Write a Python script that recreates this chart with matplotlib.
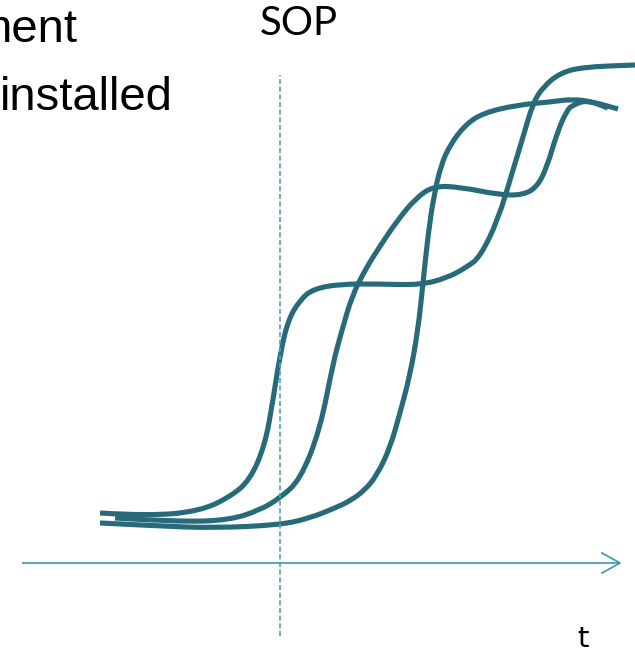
#!/usr/bin/env python3
"""Schematic: three S-curves of installed share over time, with SOP marker."""

import matplotlib

matplotlib.use("Agg")
import matplotlib.pyplot as plt
import numpy as np
from matplotlib.patches import PathPatch
from matplotlib.path import Path


# curve control points: time (x) and level above the time axis (y)
EARLY_T = [100, 150, 200, 230, 250, 265, 273, 280, 288, 300, 313, 340, 380, 420,
           447, 467, 480, 498, 513, 523, 533, 543, 560, 583, 635]
EARLY_Y = [50, 47, 52, 66, 83, 118, 163, 208, 243, 263, 274, 279, 279, 278,
           285, 296, 306, 343, 393, 426, 460, 476, 490, 496, 498]

MID_T = [115, 180, 230, 260, 280, 300, 320, 333, 342, 352, 365, 380, 397, 415,
         433, 460, 500, 523, 537, 547, 557, 567, 573, 587, 608]
MID_Y = [45, 41, 43, 53, 65, 83, 133, 200, 233, 267, 293, 317, 342, 364,
         377, 376, 368, 368, 376, 396, 430, 453, 458, 463, 455]

LATE_T = [100, 160, 213, 280, 310, 335, 350, 365, 377, 390, 400, 410, 418, 423,
          428, 434, 441, 450, 465, 483, 517, 550, 573, 593, 618]
LATE_Y = [40, 37, 35, 38, 45, 55, 62, 73, 88, 115, 150, 188, 233, 280,
          328, 368, 398, 418, 438, 450, 458, 461, 464, 461, 454]

SOP_T = 280
AXIS_START = 22
AXIS_END = 620

CURVE_COLOR = "#276B7B"
AXIS_COLOR = "#3A97AD"
SOP_COLOR = "#4BA3B6"


def smooth_path(xs, ys):
    pts = np.column_stack([xs, ys]).astype(float)
    verts = [pts[0]]
    codes = [Path.MOVETO]
    for i in range(1, len(pts) - 1):
        verts += [pts[i], (pts[i] + pts[i + 1]) / 2]
        codes += [Path.CURVE3, Path.CURVE3]
    verts.append(pts[-1])
    codes.append(Path.LINETO)
    return Path(verts, codes)


def main():
    fig = plt.figure(figsize=(6.35, 6.54), dpi=100)
    ax = fig.add_axes([0, 0, 1, 1])
    ax.set_xlim(0, 635)
    ax.set_ylim(-91, 563)
    ax.axis("off")

    # time axis with open arrow head
    ax.plot([AXIS_START, AXIS_END], [0, 0], color=AXIS_COLOR, lw=1.2,
            solid_capstyle="butt")
    ax.plot([AXIS_END - 18, AXIS_END, AXIS_END - 18], [10, 0, -10],
            color=AXIS_COLOR, lw=1.2)

    # SOP marker
    ax.plot([SOP_T, SOP_T], [-73, 488], color=SOP_COLOR, lw=1.2,
            linestyle=(0, (3, 1.6)))

    for xs, ys in [(LATE_T, LATE_Y), (MID_T, MID_Y), (EARLY_T, EARLY_Y)]:
        patch = PathPatch(smooth_path(xs, ys), facecolor="none",
                          edgecolor=CURVE_COLOR, lw=3.7, capstyle="butt",
                          joinstyle="round")
        ax.add_patch(patch)

    ax.text(78, 521, "ment", fontsize=34, family="Liberation Sans",
            ha="right", va="baseline", color="black")
    ax.text(173, 453, "installed", fontsize=34, family="Liberation Sans",
            ha="right", va="baseline", color="black")
    ax.text(299, 528, "SOP", fontsize=29, family="Lato",
            ha="center", va="baseline", color="black")
    ax.text(583, -84, "t", fontsize=21, family="DejaVu Sans",
            ha="center", va="baseline", color="black")

    fig.savefig("out.png", dpi=100)
    plt.close(fig)


if __name__ == "__main__":
    main()
